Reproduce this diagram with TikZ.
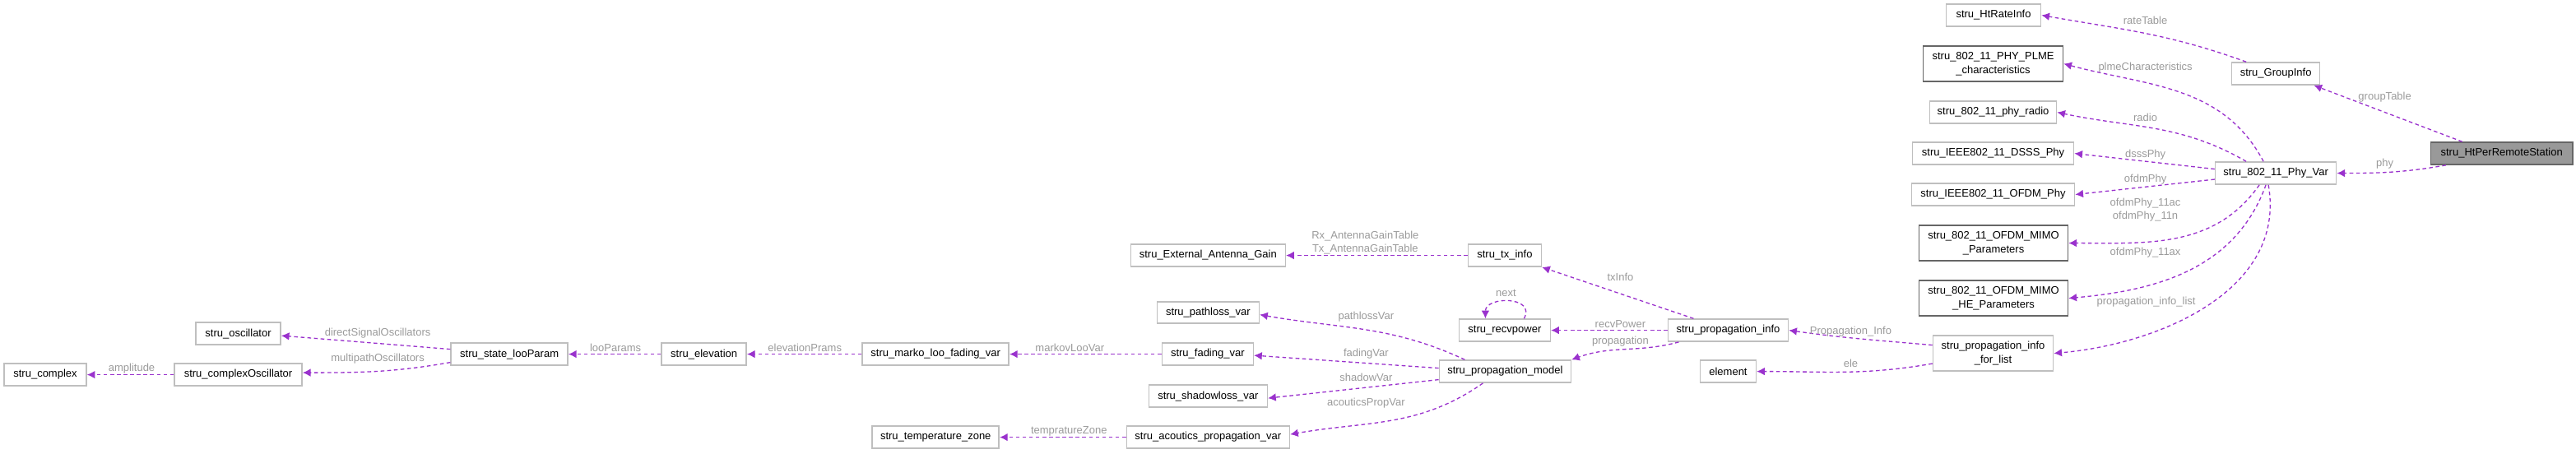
\documentclass[tikz,border=0pt]{standalone}
\usepackage{fontspec}
\setmainfont{Liberation Sans}
\usetikzlibrary{arrows.meta}
\definecolor{edgec}{HTML}{9A32CD}
\definecolor{lblc}{HTML}{9A9A9A}
\definecolor{bord}{HTML}{BFBFBF}
\definecolor{dbord}{HTML}{666666}
\newcommand\bx[7]{\node[box,#7, minimum width={(#4-#2)*0.02cm}, minimum height={(#5-#3)*0.02cm}] (#1) at ({(#2+#4)/2*0.02},{-(#3+#5)/2*0.02}) {#6};}
\newcommand\lb[4]{\node[lbl] (#1) at ({#2*0.02},{-#3*0.02}) {#4};}
\begin{document}
\begin{tikzpicture}[
  box/.style={draw=bord, line width=0.9pt, fill=white, inner sep=0pt, align=center, font=\fontsize{7.4}{9.6}\selectfont},
  dk/.style={draw=dbord},
  lbl/.style={text=lblc, inner sep=0pt, align=center, font=\fontsize{7.4}{9}\selectfont},
  edge/.style={draw=edgec, line width=0.75pt, dash pattern=on 2.6pt off 2pt, -{Latex[length=5.5pt,width=5.5pt]}}
]
\useasboundingbox (0,0) rectangle (62.62,-11.02);
% nodes
\bx{htrate}{2365}{5}{2480}{32}{stru\_HtRateInfo}{}
\bx{plme}{2337}{56}{2507}{99}{stru\_802\_11\_PHY\_PLME\\\_characteristics}{dk}
\bx{group}{2712}{76}{2819}{103}{stru\_GroupInfo}{}
\bx{radio}{2345}{123}{2499}{150}{stru\_802\_11\_phy\_radio}{}
\bx{dsss}{2324}{173}{2520}{200}{stru\_IEEE802\_11\_DSSS\_Phy}{}
\bx{phyvar}{2692}{197}{2839}{224}{stru\_802\_11\_Phy\_Var}{}
\bx{htper}{2954}{173}{3126}{200}{stru\_HtPerRemoteStation}{dk,fill={rgb,255:red,153;green,153;blue,153}}
\bx{ofdm}{2323}{223}{2521}{250}{stru\_IEEE802\_11\_OFDM\_Phy}{}
\bx{mimo}{2332}{274}{2513}{317}{stru\_802\_11\_OFDM\_MIMO\\\_Parameters}{dk}
\bx{mimohe}{2332}{341}{2513}{384}{stru\_802\_11\_OFDM\_MIMO\\\_HE\_Parameters}{dk}
\bx{pilist}{2349}{408}{2495}{451}{stru\_propagation\_info\\\_for\_list}{}
\bx{ext}{1374}{297}{1562}{324}{stru\_External\_Antenna\_Gain}{}
\bx{tx}{1784}{297}{1873}{324}{stru\_tx\_info}{}
\bx{recv}{1773}{388}{1884}{415}{stru\_recvpower}{}
\bx{pinfo}{2027}{388}{2173}{415}{stru\_propagation\_info}{}
\bx{pmodel}{1749}{438}{1909}{465}{stru\_propagation\_model}{}
\bx{element}{2066}{438}{2134}{465}{element}{}
\bx{pathloss}{1406}{367}{1530}{393}{stru\_pathloss\_var}{}
\bx{fading}{1412}{417}{1523}{444}{stru\_fading\_var}{}
\bx{shadow}{1396}{468}{1540}{495}{stru\_shadowloss\_var}{}
\bx{acou}{1369}{518}{1567}{545}{stru\_acoutics\_propagation\_var}{}
\bx{elev}{804}{417}{907}{444}{stru\_elevation}{}
\bx{marko}{1048}{417}{1226}{444}{stru\_marko\_loo\_fading\_var}{}
\bx{temp}{1060}{518}{1214}{545}{stru\_temperature\_zone}{}
\bx{osc}{238}{392}{341}{419}{stru\_oscillator}{}
\bx{state}{548}{417}{690}{444}{stru\_state\_looParam}{}
\bx{complex}{5}{442}{105}{469}{stru\_complex}{}
\bx{cosc}{212}{442}{367}{469}{stru\_complexOscillator}{}
% edges
\draw[edge] ([xshift=-0.72cm]group.north) to[out=160,in=-10] (htrate.east);
\draw[edge] ([xshift=-0.96cm]htper.north) -- ([xshift=-0.16cm]group.south east);
\draw[edge] ([xshift=0.38cm]htper.south west) to[out=190,in=0] (phyvar.east);
\draw[edge] ([xshift=-0.3cm]phyvar.north) to[out=118,in=-15] (plme.east);
\draw[edge] ([xshift=-0.72cm]phyvar.north) to[out=150,in=-12] (radio.east);
\draw[edge] ([yshift=0.1cm]phyvar.west) -- (dsss.east);
\draw[edge] ([yshift=-0.15cm]phyvar.west) -- (ofdm.east);
\draw[edge] ([xshift=-0.4cm]phyvar.south) to[out=-125,in=0] (mimo.east);
\draw[edge] ([xshift=-0.24cm]phyvar.south) to[out=-110,in=5] (mimohe.east);
\draw[edge] ([xshift=-0.18cm]phyvar.south) to[out=-80,in=5] (pilist.east);
\draw[edge] ([yshift=0.2cm]pilist.west) to[out=175,in=-8] (pinfo.east);
\draw[edge] ([yshift=-0.25cm]pilist.west) to[out=190,in=0] (element.east);
\draw[edge] ([xshift=-0.84cm]pinfo.north) -- (tx.south east);
\draw[edge] (pinfo.west) -- (recv.east);
\draw[edge] ([xshift=0.47cm]recv.north) .. controls +(0.3,0.55) and +(0,0.55) .. ([xshift=-0.47cm]recv.north);
\draw[edge] ([xshift=-1.2cm]pinfo.south) to[out=195,in=20] (pmodel.north east);
\draw[edge] (tx.west) -- (ext.east);
\draw[edge] ([xshift=-0.98cm]pmodel.north) to[out=155,in=-10] ([yshift=-0.05cm]pathloss.east);
\draw[edge] ([yshift=0.08cm]pmodel.west) -- ([yshift=-0.03cm]fading.east);
\draw[edge] ([yshift=-0.2cm]pmodel.west) -- ([yshift=-0.05cm]shadow.east);
\draw[edge] ([xshift=-0.54cm]pmodel.south) to[out=-145,in=10] ([yshift=0.07cm]acou.east);
\draw[edge] (fading.west) -- (marko.east);
\draw[edge] (acou.west) -- (temp.east);
\draw[edge] (marko.west) -- (elev.east);
\draw[edge] (elev.west) -- (state.east);
\draw[edge] ([yshift=0.12cm]state.west) -- ([yshift=-0.05cm]osc.east);
\draw[edge] ([yshift=-0.2cm]state.west) to[out=190,in=0] ([yshift=0.05cm]cosc.east);
\draw[edge] (cosc.west) -- (complex.east);
% labels
\lb{l1}{2607}{25}{rateTable}
\lb{l2}{2607}{82}{plmeCharacteristics}
\lb{l3}{2898}{118}{groupTable}
\lb{l4}{2607}{143}{radio}
\lb{l5}{2607}{188}{dsssPhy}
\lb{l6}{2898}{199}{phy}
\lb{l7}{2607}{218}{ofdmPhy}
\lb{l8}{2607}{255}{ofdmPhy\_11ac\\ofdmPhy\_11n}
\lb{l9}{2607}{307}{ofdmPhy\_11ax}
\lb{l10}{2608}{367}{propagation\_info\_list}
\lb{l11}{1659}{295}{Rx\_AntennaGainTable\\Tx\_AntennaGainTable}
\lb{l12}{1969}{337}{txInfo}
\lb{l13}{1830}{356}{next}
\lb{l14}{1660}{385}{pathlossVar}
\lb{l15}{1969}{394}{recvPower}
\lb{l16}{1969}{415}{propagation}
\lb{l17}{2249}{403}{Propagation\_Info}
\lb{l18}{1660}{430}{fadingVar}
\lb{l19}{2249}{442}{ele}
\lb{l20}{1660}{459}{shadowVar}
\lb{l21}{1660}{490}{acouticsPropVar}
\lb{l22}{1300}{423}{markovLooVar}
\lb{l23}{978}{423}{elevationPrams}
\lb{l24}{1299}{524}{tempratureZone}
\lb{l25}{748}{423}{looParams}
\lb{l26}{459}{405}{directSignalOscillators}
\lb{l27}{459}{436}{multipathOscillators}
\lb{l28}{160}{448}{amplitude}
\end{tikzpicture}
\end{document}
